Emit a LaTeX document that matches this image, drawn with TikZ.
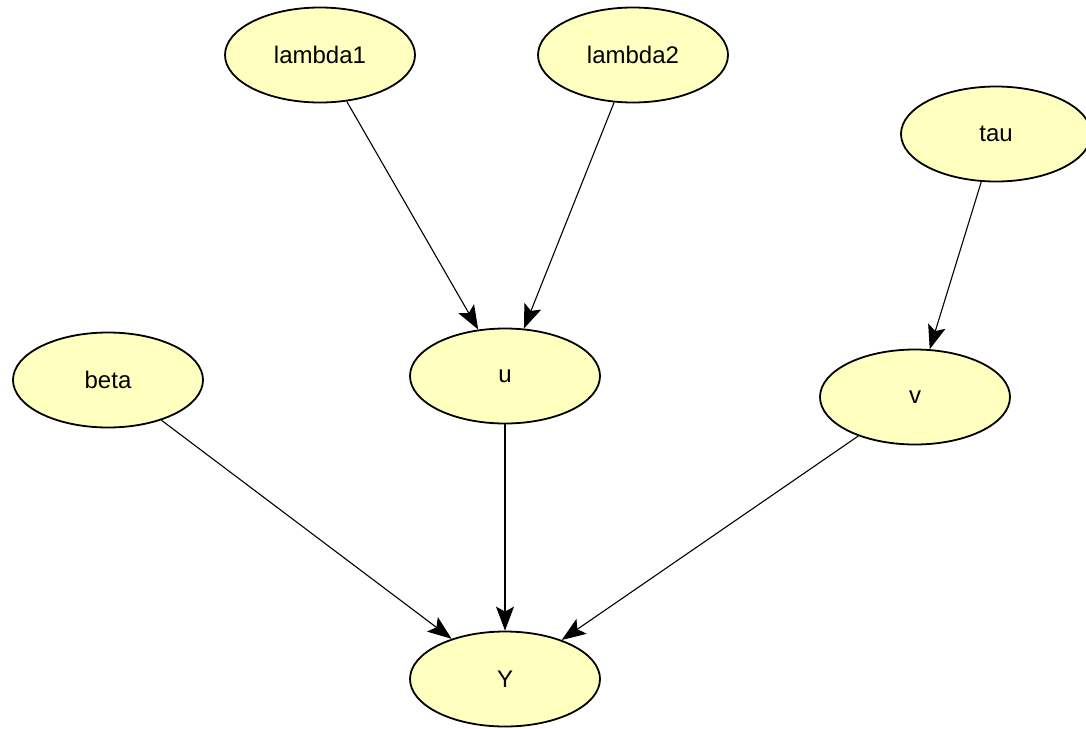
\documentclass[tikz,border=0pt]{standalone}
\usepackage{fontspec}
\setmainfont{Liberation Sans}
\usetikzlibrary{shapes.geometric,arrows.meta}
\definecolor{nodefill}{RGB}{255,255,192}
\tikzset{
  var/.style={ellipse, draw=black, line width=0.9pt, fill=nodefill, minimum width=95pt, minimum height=47.5pt, inner sep=0pt, font=\fontsize{12pt}{14pt}\selectfont},
  edge/.style={draw=black, line width=0.55pt, -{Stealth[length=12pt,width=9pt,inset=2.5pt]}}
}
\begin{document}
\begin{tikzpicture}[x=0.5pt,y=-0.5pt]
\clip (0,0) rectangle (1086,728);
\fill[white] (0,0) rectangle (1086,728);
\node[var] (lambda1) at (320,55) {lambda1};
\node[var] (lambda2) at (633,55) {lambda2};
\node[var] (tau) at (996,134) {tau};
\node[var] (beta) at (108,380) {beta};
\node[var] (u) at (505,376) {u};
\node[var] (v) at (915,397) {v};
\node[var] (Y) at (505,679) {Y};
\draw[edge] (lambda1) -- (u);
\draw[edge] (lambda2) -- (u);
\draw[edge] (tau) -- (v);
\draw[edge] (beta) -- (Y);
\draw[edge] (u) -- (Y);
\draw[edge] (v) -- (Y);
\end{tikzpicture}
\end{document}
